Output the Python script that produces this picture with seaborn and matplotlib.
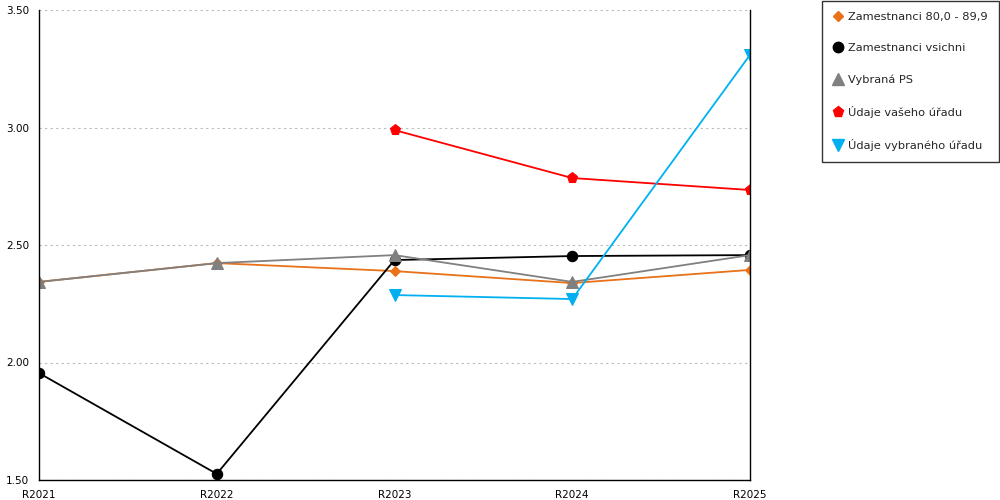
import numpy as np
import pandas as pd
import matplotlib
matplotlib.use("Agg")
import matplotlib.pyplot as plt
import seaborn as sns
from matplotlib.lines import Line2D
from matplotlib.ticker import MultipleLocator, FixedLocator

years = ["R2021", "R2022", "R2023", "R2024", "R2025"]
zam_80 = [2.343, 2.423, 2.389, 2.338, 2.394]
zam_all = [1.955, 1.526, 2.436, 2.453, 2.457]
vybrana_ps = [2.343, 2.423, 2.457, 2.343, 2.457]
vas_urad = [np.nan, np.nan, 2.989, 2.785, 2.734]
vybrany_urad = [np.nan, np.nan, 2.287, 2.270, 3.309]

series = [
    ("Zamestnanci 80,0 - 89,9", zam_80, "#e8711a", "D", 5.5),
    ("Zamestnanci vsichni", zam_all, "#000000", "o", 7.5),
    ("Vybraná PS", vybrana_ps, "#808080", "^", 8),
    ("Údaje vašeho úřadu", vas_urad, "#ff0000", "p", 8),
    ("Údaje vybraného úřadu", vybrany_urad, "#00b0f0", "v", 8),
]

sns.set_style("white")
plt.rcParams["font.family"] = ["DejaVu Sans"]
plt.rcParams["font.size"] = 7.5

fig = plt.figure(figsize=(10, 5), dpi=100)
ax = fig.add_axes([0.039, 0.04, 0.711, 0.94])

handles = []
for name, vals, col, mk, ms in series:
    d = pd.DataFrame({"year": years, "val": vals}).dropna()
    sns.lineplot(data=d, x="year", y="val", color=col, marker=mk, markersize=ms,
                 markeredgecolor=col, linewidth=1.3, ax=ax, sort=False)
    handles.append(Line2D([], [], linestyle="none", marker=mk, color=col,
                          markersize=ms, label=name))

ax.set_xlim(0, 4)
ax.set_ylim(1.5, 3.5)
ax.set_xlabel("")
ax.set_ylabel("")
ax.yaxis.set_major_locator(MultipleLocator(0.5))
ax.yaxis.set_major_formatter(matplotlib.ticker.FormatStrFormatter("%.2f"))
ax.set_xticks(range(len(years)))
ax.set_xticklabels(years)
ax.xaxis.set_minor_locator(FixedLocator([0.5, 1.5, 2.5, 3.5]))
ax.grid(axis="y", color="#bbbbbb", linestyle=(0, (2, 3)), linewidth=0.8)
for s in ["left", "bottom", "right"]:
    ax.spines[s].set_color("black")
    ax.spines[s].set_linewidth(1)
ax.spines["top"].set_visible(False)
ax.tick_params(axis="both", which="both", direction="out", length=5, width=1,
               colors="black", labelsize=7.5, pad=2)

leg = fig.legend(handles=handles, loc="upper right", bbox_to_anchor=(0.999, 0.999),
                 frameon=True, fancybox=False, edgecolor="black", fontsize=8.2,
                 labelspacing=1.85, handlelength=0.8, handletextpad=0.5,
                 borderpad=1.0, borderaxespad=0)
leg.get_frame().set_linewidth(1)

fig.savefig("out.png", dpi=100)
